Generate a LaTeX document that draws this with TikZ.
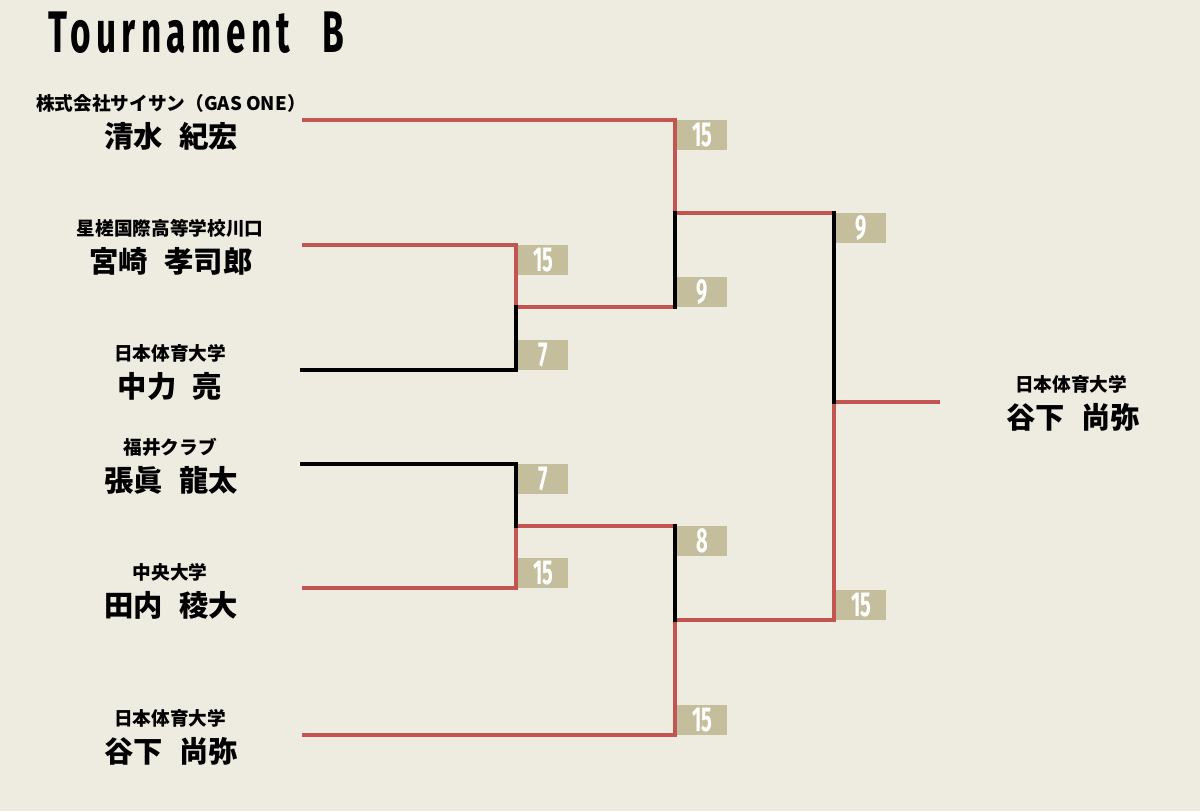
\documentclass[tikz,border=0pt]{standalone}
\usepackage{fontspec}
\usetikzlibrary{calc}
\newfontfamily\jpfont{Noto Sans CJK JP}
\newfontfamily\condfont{Fira Sans}[FakeStretch=0.58]
\newfontfamily\titlefont{Fira Sans}[FakeStretch=0.6,LetterSpace=9]
\definecolor{bgcol}{HTML}{EEEBE1}
\definecolor{winred}{HTML}{C25452}
\definecolor{boxcol}{HTML}{C5BE9C}
\begin{document}
\begin{tikzpicture}[x=0.75pt,y=-0.75pt]
	\tikzset{aff/.style = {anchor=base, inner sep=0pt, font=\jpfont\bfseries\fontsize{14pt}{16pt}\selectfont},
		player/.style = {anchor=base, inner sep=0pt, font=\jpfont\bfseries\fontsize{22pt}{24pt}\selectfont},
		won/.style = {draw=winred, line width=3pt, line join=miter},
		lost/.style = {draw=black, line width=3pt, line join=miter, line cap=rect},
		score/.style = {fill=boxcol, text=white, inner sep=0pt, minimum width=37.5pt, minimum height=22.5pt, font=\condfont\bfseries\fontsize{26pt}{26pt}\selectfont}}

	\fill[bgcol] (0,0) rectangle (1200,811);
	\useasboundingbox (0,0) rectangle (1200,811);

	\node[anchor=base west, inner sep=0pt, font=\titlefont\bfseries\fontsize{44pt}{44pt}\selectfont] (title) at (48,52) {Tournament\hspace{0.55em}B};

	% players
	\node[aff] (aff_1) at (171,110) {株式会社サイサン（GAS ONE）};
	\node[player] (name_1) at (171,147) {清水\hspace{0.55em}紀宏};
	\node[aff] (aff_2) at (170,235) {星槎国際高等学校川口};
	\node[player] (name_2) at (171,272) {宮崎\hspace{0.55em}孝司郎};
	\node[aff] (aff_3) at (170,360) {日本体育大学};
	\node[player] (name_3) at (170,397) {中力\hspace{0.55em}亮};
	\node[aff] (aff_4) at (170,454) {福井クラブ};
	\node[player] (name_4) at (171,491) {張眞\hspace{0.55em}龍太};
	\node[aff] (aff_5) at (170,579) {中央大学};
	\node[player] (name_5) at (171,616) {田内\hspace{0.55em}稜大};
	\node[aff] (aff_6) at (170,725) {日本体育大学};
	\node[player] (name_6) at (171,762) {谷下\hspace{0.55em}尚弥};

	\node[aff] (aff_w) at (1071,391) {日本体育大学};
	\node[player] (name_w) at (1073,428) {谷下\hspace{0.55em}尚弥};

	% bracket points
	\coordinate (s_1) at (302,120);
	\coordinate (s_2) at (302,245);
	\coordinate (s_3) at (302,370);
	\coordinate (s_4) at (302,464);
	\coordinate (s_5) at (302,588);
	\coordinate (s_6) at (302,735);

	\coordinate (a_2) at (516,245);
	\coordinate (a_3) at (516,370);
	\coordinate (a_m) at (516,307);
	\coordinate (b_4) at (516,464);
	\coordinate (b_5) at (516,588);
	\coordinate (b_m) at (516,526);

	\coordinate (c_1) at (675,120);
	\coordinate (c_a) at (675,307);
	\coordinate (c_m) at (675,213);
	\coordinate (d_b) at (675,526);
	\coordinate (d_6) at (675,735);
	\coordinate (d_m) at (675,620);

	\coordinate (f_c) at (834,213);
	\coordinate (f_d) at (834,620);
	\coordinate (f_m) at (834,402);
	\coordinate (win) at (940,402);

	\draw[won] (s_1) -- (c_1) -- (c_m) -- (f_c);
	\draw[won] (s_2) -- (a_2) -- (a_m) -- (c_a);
	\draw[won] (s_5) -- (b_5) -- (b_m) -- (d_b);
	\draw[won] (s_6) -- (d_6) -- (d_m) -- (f_d) -- (f_m) -- (win);

	\draw[lost] (s_3) -- (a_3) -- (a_m);
	\draw[lost] (s_4) -- (b_4) -- (b_m);
	\draw[lost] (c_a) -- (c_m);
	\draw[lost] (d_b) -- (d_m);
	\draw[lost] (f_c) -- (f_m);

	% scores
	\node[score, anchor=north west] (sc_2) at ($(a_2)+(2,0)$) {15};
	\node[score, anchor=south west] (sc_3) at ($(a_3)+(2,0)$) {7};
	\node[score, anchor=north west] (sc_4) at ($(b_4)+(2,0)$) {7};
	\node[score, anchor=south west] (sc_5) at ($(b_5)+(2,0)$) {15};
	\node[score, anchor=north west] (sc_1) at ($(c_1)+(2,0)$) {15};
	\node[score, anchor=south west] (sc_a) at ($(c_a)+(2,0)$) {9};
	\node[score, anchor=north west] (sc_b) at ($(d_b)+(2,0)$) {8};
	\node[score, anchor=south west] (sc_6) at ($(d_6)+(2,0)$) {15};
	\node[score, anchor=north west] (sc_c) at ($(f_c)+(2,0)$) {9};
	\node[score, anchor=south west] (sc_d) at ($(f_d)+(2,0)$) {15};

\end{tikzpicture}
\end{document}
